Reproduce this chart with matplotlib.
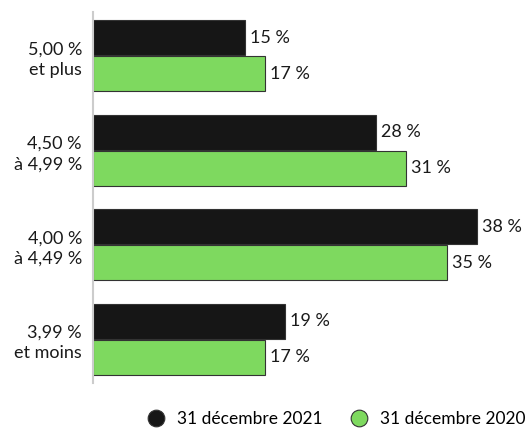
import matplotlib.pyplot as plt
from matplotlib.lines import Line2D

plt.rcParams['font.family'] = ['Lato', 'DejaVu Sans']

categories = ['5,00 %\net plus', '4,50 %\nà 4,99 %', '4,00 %\nà 4,49 %', '3,99 %\net moins']
values_2021 = [15, 28, 38, 19]
values_2020 = [17, 31, 35, 17]
series_names = ['31 décembre 2021', '31 décembre 2020']

black = '#161616'
green = '#7ed95f'

fig = plt.figure(figsize=(5.29, 4.28), dpi=100)
# axes box in pixels: x 93..519, y 12..383
ax = fig.add_axes([93 / 529, 1 - 383 / 428, 426 / 529, 371 / 428])

h = 0.37
ys = list(range(len(categories)))
y_black = [y - 0.19 for y in ys]
y_green = [y + 0.19 for y in ys]
ax.barh(y_black, values_2021, height=h, color=black, edgecolor='#333333', linewidth=0.8)
ax.barh(y_green, values_2020, height=h, color=green, edgecolor='#333333', linewidth=0.8)

for y, v in zip(y_black, values_2021):
    ax.text(v + 0.5, y, f'{v} %', va='center', ha='left', fontsize=13, color='#1a1a1a')
for y, v in zip(y_green, values_2020):
    ax.text(v + 0.5, y, f'{v} %', va='center', ha='left', fontsize=13, color='#1a1a1a')

ax.set_xlim(0, 426 / 10.1)
ax.set_ylim(3.465, -0.465)
ax.set_yticks(ys)
ax.set_yticklabels(categories, fontsize=13, color='#1a1a1a', linespacing=1.35)
ax.tick_params(axis='y', length=0, pad=8)
ax.set_xticks([])
for s in ['top', 'right', 'bottom']:
    ax.spines[s].set_visible(False)
ax.spines['left'].set_color('#cccccc')
ax.spines['left'].set_linewidth(1.5)

handles = [
    Line2D([], [], marker='o', linestyle='', markersize=12, markerfacecolor=black,
           markeredgecolor='#333333', markeredgewidth=0.8),
    Line2D([], [], marker='o', linestyle='', markersize=12, markerfacecolor=green,
           markeredgecolor='#333333', markeredgewidth=0.8),
]
fig.legend(handles, series_names, loc='center right', bbox_to_anchor=(525 / 529, 1 - 419 / 428),
           ncol=2, frameon=False, fontsize=12.5, handletextpad=0.7, columnspacing=1.6,
           handlelength=1.0, borderpad=0, borderaxespad=0)

fig.savefig('out.png', dpi=100)
